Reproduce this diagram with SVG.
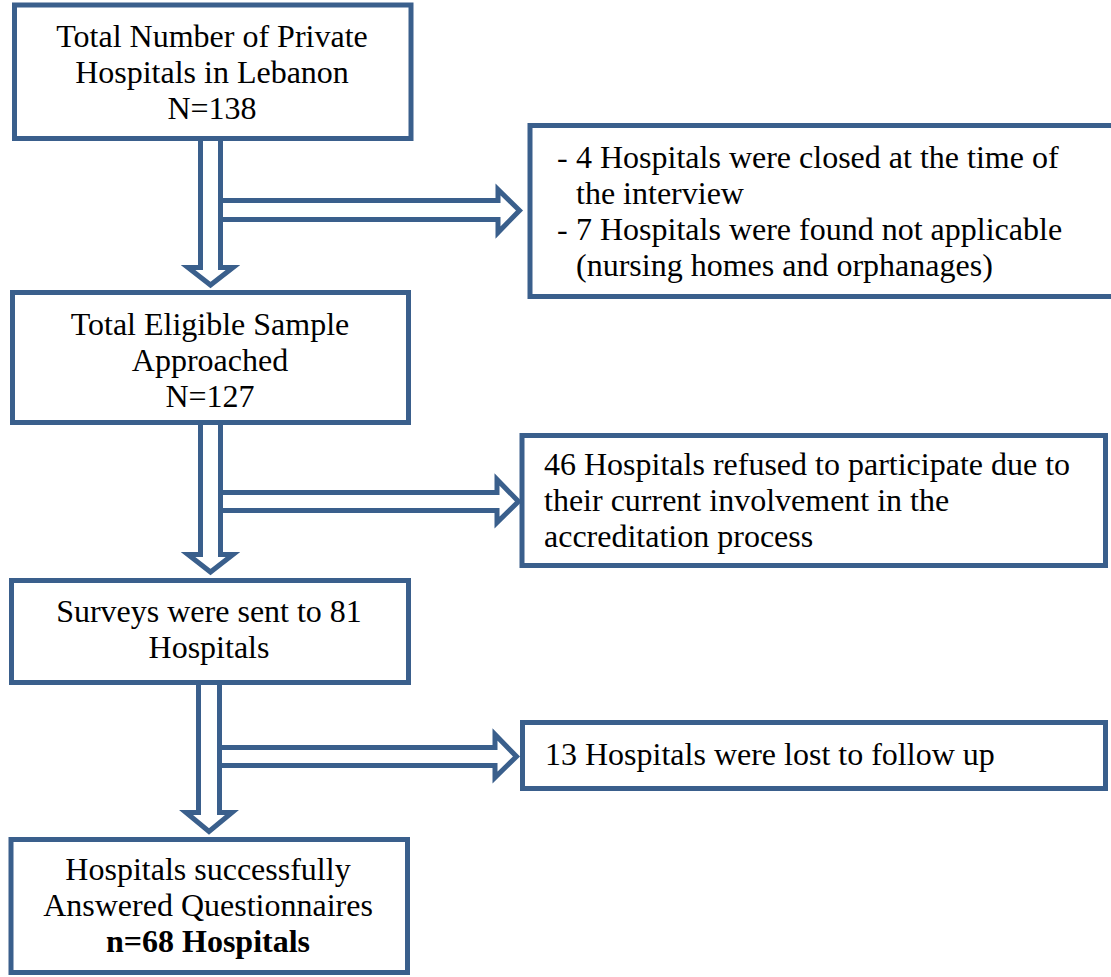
<svg xmlns="http://www.w3.org/2000/svg" width="1111" height="977" viewBox="0 0 1111 977">
<style>
.box{fill:#fff;stroke:#3A5F8C;stroke-width:5}
.arr{fill:#fff;stroke:#3A5F8C;stroke-width:5;stroke-linejoin:miter;stroke-miterlimit:10}
text{font-family:"Liberation Serif","Times New Roman",serif;font-size:32px;fill:#000}
.c{text-anchor:middle}
.b{font-weight:bold}
</style>
<rect width="1111" height="977" fill="#fff"/>
<g id="connectors">
<path class="arr" d="M200.5,138 V267.5 H188 L210.5,285 L233,267.5 H220.5 V138 Z"/>
<path class="arr" d="M220.5,200.5 H498 V189.5 L519.5,210.5 L498,232.5 V219.5 H220.5 Z"/>
<path class="arr" d="M200.5,422 V554.5 H188 L210.5,572 L233,554.5 H220.5 V422 Z"/>
<path class="arr" d="M220.5,492.5 H497 V479.5 L518.5,501.5 L497,522.5 V510.5 H220.5 Z"/>
<path class="arr" d="M198.5,682 V812.5 H186 L209,831.5 L232,812.5 H219.5 V682 Z"/>
<path class="arr" d="M219.5,747.5 H495 V734.5 L516.5,756.5 L495,777.5 V765.5 H219.5 Z"/>
</g>
<g id="n1">
<rect class="box" x="14.5" y="5" width="396.5" height="133.5"/>
<text class="c" x="212" y="47">Total Number of Private</text>
<text class="c" x="212" y="83">Hospitals in Lebanon</text>
<text class="c" x="212" y="119">N=138</text>
</g>
<g id="n2">
<rect class="box" x="12.5" y="292.5" width="396" height="130"/>
<text class="c" x="210" y="335">Total Eligible Sample</text>
<text class="c" x="210" y="371">Approached</text>
<text class="c" x="210" y="407">N=127</text>
</g>
<g id="n3">
<rect class="box" x="11.5" y="580.5" width="397" height="102"/>
<text class="c" x="209" y="622">Surveys were sent to 81</text>
<text class="c" x="209" y="658">Hospitals</text>
</g>
<g id="n4">
<rect class="box" x="11" y="839.5" width="396.5" height="133"/>
<text class="c" x="208" y="880">Hospitals successfully</text>
<text class="c" x="208" y="916">Answered Questionnaires</text>
<text class="c b" x="208" y="952">n=68 Hospitals</text>
</g>
<g id="r1">
<rect class="box" x="530" y="125.5" width="600" height="171"/>
<text x="557" y="168">-</text>
<text x="576" y="168">4 Hospitals were closed at the time of</text>
<text x="576" y="204">the interview</text>
<text x="557" y="240">-</text>
<text x="576" y="240">7 Hospitals were found not applicable</text>
<text x="576" y="276">(nursing homes and orphanages)</text>
</g>
<g id="r2">
<rect class="box" x="522" y="435.5" width="583.5" height="130"/>
<text x="544" y="475">46 Hospitals refused to participate due to</text>
<text x="544" y="511">their current involvement in the</text>
<text x="544" y="547">accreditation process</text>
</g>
<g id="r3">
<rect class="box" x="522.5" y="722.5" width="583" height="66"/>
<text x="545" y="765">13 Hospitals were lost to follow up</text>
</g>
</svg>
